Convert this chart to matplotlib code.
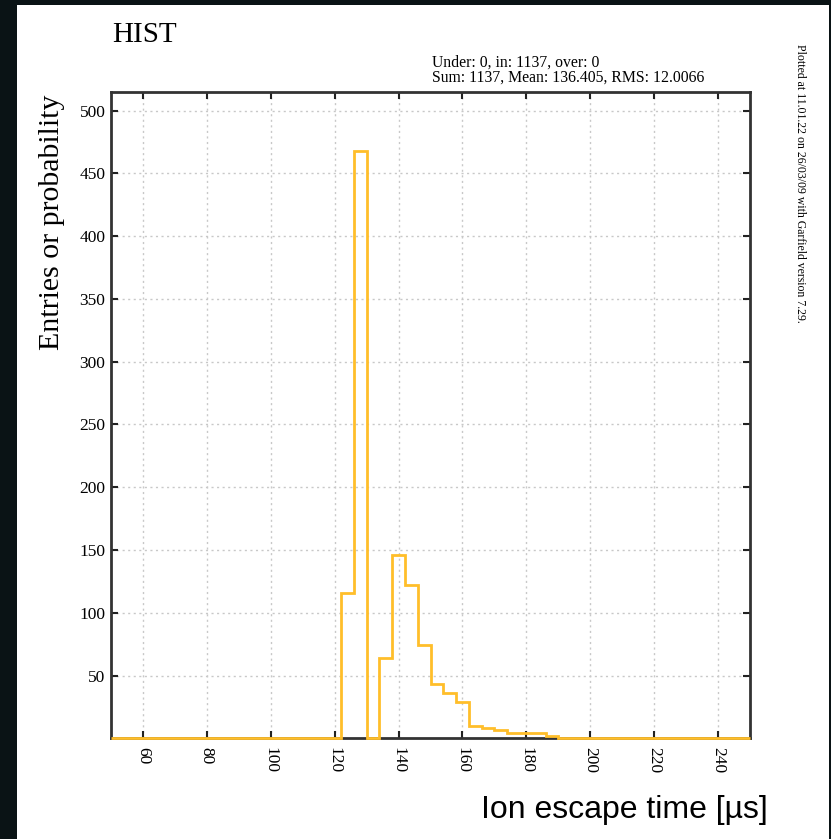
import numpy as np
import matplotlib
matplotlib.use("Agg")
import matplotlib.pyplot as plt
from matplotlib.patches import Rectangle

# ---------------- data ----------------
x_lo, x_hi, bin_width = 50, 250, 4
counts = [0, 0, 0, 0, 0, 0, 0, 0, 0, 0,
          0, 0, 0, 0, 0, 0, 0, 0, 116, 468,
          0, 64, 146, 122, 74, 43, 36, 29, 10, 8,
          7, 4, 4, 4, 2, 0, 0, 0, 0, 0,
          0, 0, 0, 0, 0, 0, 0, 0, 0, 0]
x_ticks = [60, 80, 100, 120, 140, 160, 180, 200, 220, 240]
y_ticks = [50, 100, 150, 200, 250, 300, 350, 400, 450, 500]
title = "HIST"
stats_line1 = "Under: 0, in: 1137, over: 0"
stats_line2 = "Sum: 1137, Mean: 136.405, RMS: 12.0066"
side_note = "Plotted at 11.01.22 on 26/03/09 with Garfield version 7.29."
x_label = "Ion escape time [\u00b5s]"
y_label = "Entries or probability"

W, H = 831, 839
fig = plt.figure(figsize=(W / 100, H / 100), dpi=100)
fig.patch.set_facecolor("#0a1315")

# white page
fig.patches.append(Rectangle((17 / W, 0), (829 - 17) / W, 1 - 5 / H,
                             transform=fig.transFigure, facecolor="white",
                             edgecolor="none", zorder=-10))

serif = ["Liberation Serif", "DejaVu Serif"]
sans = ["Liberation Sans", "DejaVu Sans"]

ax = fig.add_axes([111 / W, 1 - 738.4 / H, (750 - 111) / W, (738.4 - 92) / H])
ax.set_facecolor("white")
ax.set_zorder(1)

edges = np.arange(x_lo, x_hi + bin_width, bin_width)
ax.stairs(counts, edges, color="#FFBE2A", lw=2.0, zorder=5, clip_on=False)

ax.set_xlim(x_lo, x_hi)
ax.set_ylim(0, 1.1 * max(counts))
ax.set_xticks(x_ticks)
ax.set_yticks(y_ticks)
ax.set_xticklabels([str(v) for v in x_ticks], family=serif, fontsize=12.5)
ax.set_yticklabels([str(v) for v in y_ticks], family=serif, fontsize=12.5)
ax.tick_params(axis="both", direction="in", length=5, width=1.5, color="#222222",
               top=True, right=True)
ax.tick_params(axis="x", labelrotation=-90, pad=6)
ax.tick_params(axis="y", pad=4)
for s in ax.spines.values():
    s.set_linewidth(2)
    s.set_color("#333333")
ax.grid(True, linestyle=(0, (1.5, 2.5)), color="#c8c8c8", lw=1)
ax.set_axisbelow(True)

fig.text(112 / W, 1 - 42 / H, title, family=serif, fontsize=21, va="baseline", ha="left")
fig.text(432 / W, 1 - 63 / H, stats_line1, family=serif, fontsize=11.3, va="center", ha="left")
fig.text(432 / W, 1 - 78 / H, stats_line2, family=serif, fontsize=11.3, va="center", ha="left")
fig.text(800 / W, 1 - 183 / H, side_note, family=serif, fontsize=8.5, rotation=-90,
         va="center", ha="center")
fig.text(52 / W, 1 - 95 / H, y_label, family=serif, fontsize=21.5, rotation=90,
         va="top", ha="center")
fig.text(768 / W, 1 - 818 / H, x_label, family=sans, fontsize=23, va="baseline", ha="right")

fig.savefig("out.png", dpi=100, facecolor=fig.get_facecolor())
